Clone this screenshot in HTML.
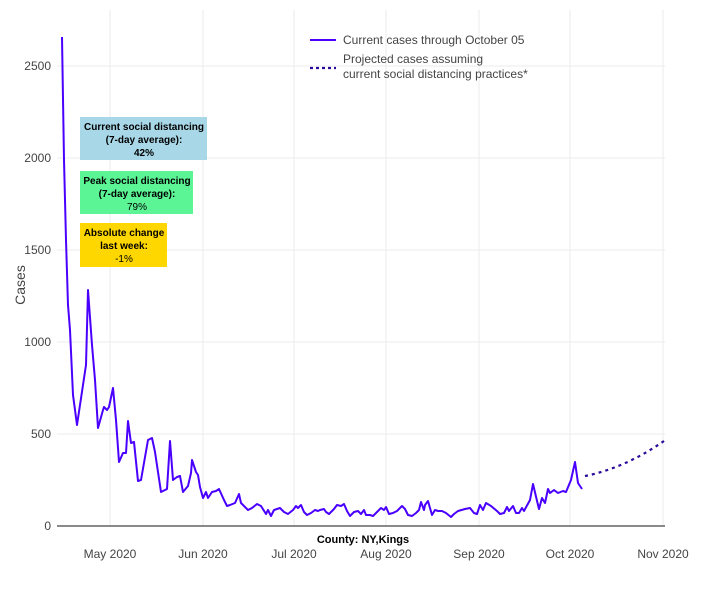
<!DOCTYPE html>
<html><head><style>
body{margin:0;background:#fff;}
svg text{font-family:"Liberation Sans",sans-serif;}
</style></head><body>
<svg width="724" height="584" viewBox="0 0 724 584" xmlns="http://www.w3.org/2000/svg">
<g stroke="#ebebeb" stroke-width="1">
<line x1="110" y1="10" x2="110" y2="526"/><line x1="203" y1="10" x2="203" y2="526"/>
<line x1="294" y1="10" x2="294" y2="526"/><line x1="386" y1="10" x2="386" y2="526"/>
<line x1="479" y1="10" x2="479" y2="526"/><line x1="570" y1="10" x2="570" y2="526"/>
<line x1="663" y1="10" x2="663" y2="526"/>
<line x1="57" y1="66" x2="665" y2="66"/><line x1="57" y1="158" x2="665" y2="158"/>
<line x1="57" y1="250" x2="665" y2="250"/><line x1="57" y1="342" x2="665" y2="342"/>
<line x1="57" y1="434" x2="665" y2="434"/>
</g>
<line x1="57" y1="526" x2="665" y2="526" stroke="#444" stroke-width="1.2"/>
<g font-size="12" fill="#444" text-anchor="end">
<text x="51" y="70">2500</text><text x="51" y="162">2000</text><text x="51" y="254">1500</text>
<text x="51" y="346">1000</text><text x="51" y="438">500</text><text x="51" y="530">0</text>
</g>
<g font-size="12" fill="#444" text-anchor="middle">
<text x="110" y="558">May 2020</text><text x="203" y="558">Jun 2020</text><text x="294" y="558">Jul 2020</text>
<text x="386" y="558">Aug 2020</text><text x="479" y="558">Sep 2020</text><text x="570" y="558">Oct 2020</text>
<text x="663" y="558">Nov 2020</text>
</g>
<text x="363" y="543" font-size="11" font-weight="bold" text-anchor="middle" fill="#000">County: NY,Kings</text>
<text transform="translate(25,285) rotate(-90)" font-size="14" fill="#444" text-anchor="middle">Cases</text>
<polyline fill="none" stroke="#4a00ff" stroke-width="2" stroke-linejoin="round" points="62,37 64,160 66,240 68,305 70,330 73,395 77,425 83,385 86,365 88,290 92,345 95,380 98,428 103,410 104,407 107,410 109,407 113,388 116,420 119,462 123,453 126,453 128,421 131,443 134,442 138,481 141,480 148,440 152,438 155,452 161,492 167,489 170,441 173,480 177,477 180,476 183,492 188,486 191,473 192,460 196,472 198,475 200,487 203,498 206,492 208,498 212,492 216,491 219,489 224,500 227,506 230,505 235,503 239,494 241,503 248,510 252,508 257,504 261,506 266,514 268,510 271,516 274,510 280,508 284,512 288,514 293,510 296,506 298,508 301,505 304,512 307,515 311,513 315,510 318,511 320,510 324,509 326,512 329,514 334,509 337,505 341,506 344,504 347,511 350,516 354,512 358,511 361,514 364,510 366,515 370,515 373,516 377,512 381,508 384,510 386,507 389,514 393,513 397,511 402,506 405,509 408,515 412,516 416,513 419,510 421,502 424,510 425,505 428,501 432,515 435,510 438,511 442,511 446,513 451,517 454,514 458,511 465,509 470,508 474,513 477,514 480,505 483,510 486,503 491,506 497,511 500,514 504,513 507,507 509,511 513,506 516,513 519,513 522,508 524,511 530,500 533,484 538,505 539,509 542,498 545,503 548,489 550,493 554,490 558,493 563,491 566,492 571,480 575,462 578,483 582,489"/>
<path d="M585,476 Q625,468 664,441" fill="none" stroke="#2a0a9a" stroke-width="2.2" stroke-dasharray="3,4"/>
<line x1="310" y1="40" x2="336" y2="40" stroke="#4a00ff" stroke-width="2"/>
<line x1="310" y1="68" x2="336" y2="68" stroke="#2a0a9a" stroke-width="2.2" stroke-dasharray="3,3"/>
<g font-size="12" fill="#444">
<text x="343" y="44">Current cases through October 05</text>
<text x="343" y="63">Projected cases assuming</text>
<text x="343" y="78">current social distancing practices*</text>
</g>
<rect x="80" y="117" width="127" height="43" fill="#a8d8e8"/>
<rect x="80" y="171" width="113" height="43" fill="#5cf596"/>
<rect x="80" y="223" width="87" height="44" fill="#ffd700"/>
<g font-size="10" fill="#000" text-anchor="middle">
<text x="144" y="130" font-weight="bold">Current social distancing</text>
<text x="144" y="143" font-weight="bold">(7-day average):</text>
<text x="144" y="156" font-weight="bold">42%</text>
<text x="137" y="184" font-weight="bold">Peak social distancing</text>
<text x="137" y="197" font-weight="bold">(7-day average):</text>
<text x="137" y="210">79%</text>
<text x="124" y="236" font-weight="bold">Absolute change</text>
<text x="124" y="249" font-weight="bold">last week:</text>
<text x="124" y="262">-1%</text>
</g>
</svg>
</body></html>
